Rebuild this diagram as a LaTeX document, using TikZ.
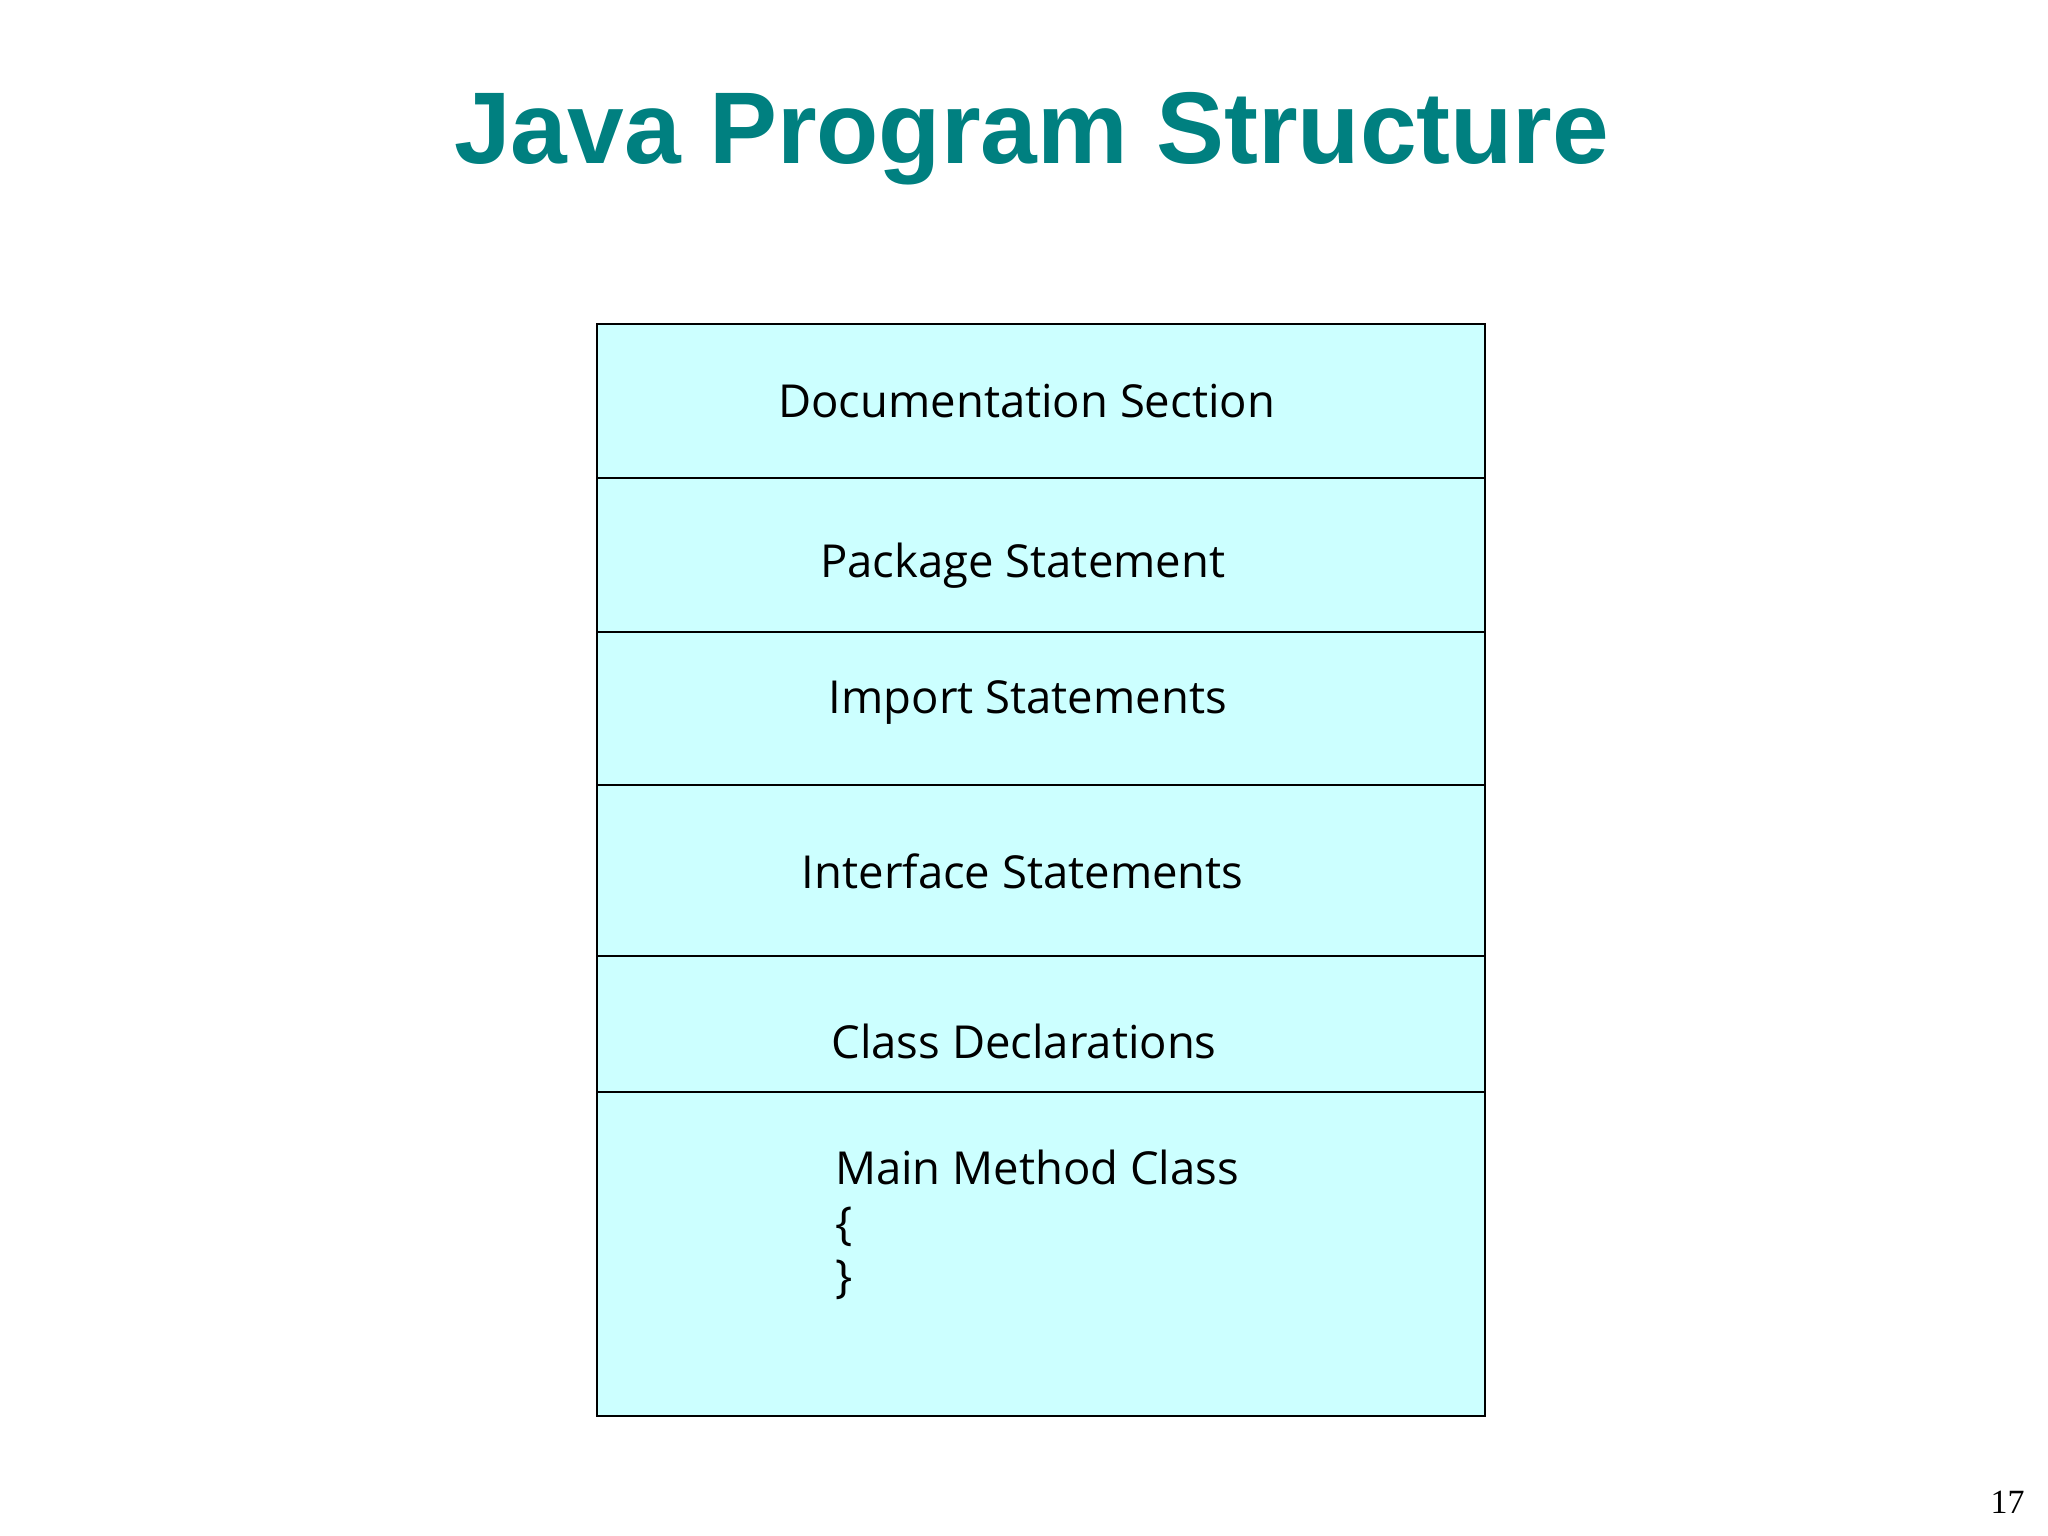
\documentclass[tikz,border=0pt]{standalone}
\usepackage{fontspec}
\setmainfont{Liberation Serif}
\newfontfamily\titlefont{Liberation Sans}
\newfontfamily\boxfont{Open Sans}
\definecolor{teal1}{RGB}{0,128,128}
\definecolor{cyanfill}{RGB}{204,255,255}
\begin{document}
\begin{tikzpicture}[x=0.5pt,y=-0.5pt,
  sect/.style={draw=black,fill=cyanfill,line width=0.8pt},
  lbl/.style={font=\boxfont\fontsize{17.4}{20}\selectfont,inner sep=0pt}]
\useasboundingbox (0,0) rectangle (1568,1176);
\node[font=\titlefont\bfseries\fontsize{39}{44}\selectfont,text=teal1] (title) at (790,106) {Java Program Structure};
\draw[sect] (457,248) rectangle (1137,366);
\draw[sect] (457,366) rectangle (1137,484);
\draw[sect] (457,484) rectangle (1137,601);
\draw[sect] (457,601) rectangle (1137,732);
\draw[sect] (457,732) rectangle (1137,836);
\draw[sect] (457,836) rectangle (1137,1084);
\node[lbl] (doc) at (786,307) {Documentation Section};
\node[lbl] (pkg) at (783,433) {Package Statement};
\node[lbl] (imp) at (787,538) {Import Statements};
\node[lbl] (itf) at (783,667) {Interface Statements};
\node[lbl] (cls) at (784,797) {Class Declarations};
\node[lbl,anchor=west] (mm) at (639,894) {Main Method Class};
\node[lbl,anchor=west] (ob) at (639,939) {\{};
\node[lbl,anchor=west] (cb) at (639,980) {\}};
\node[font=\fontsize{13}{15}\selectfont] (pg) at (1537,1150) {17};
\end{tikzpicture}
\end{document}
